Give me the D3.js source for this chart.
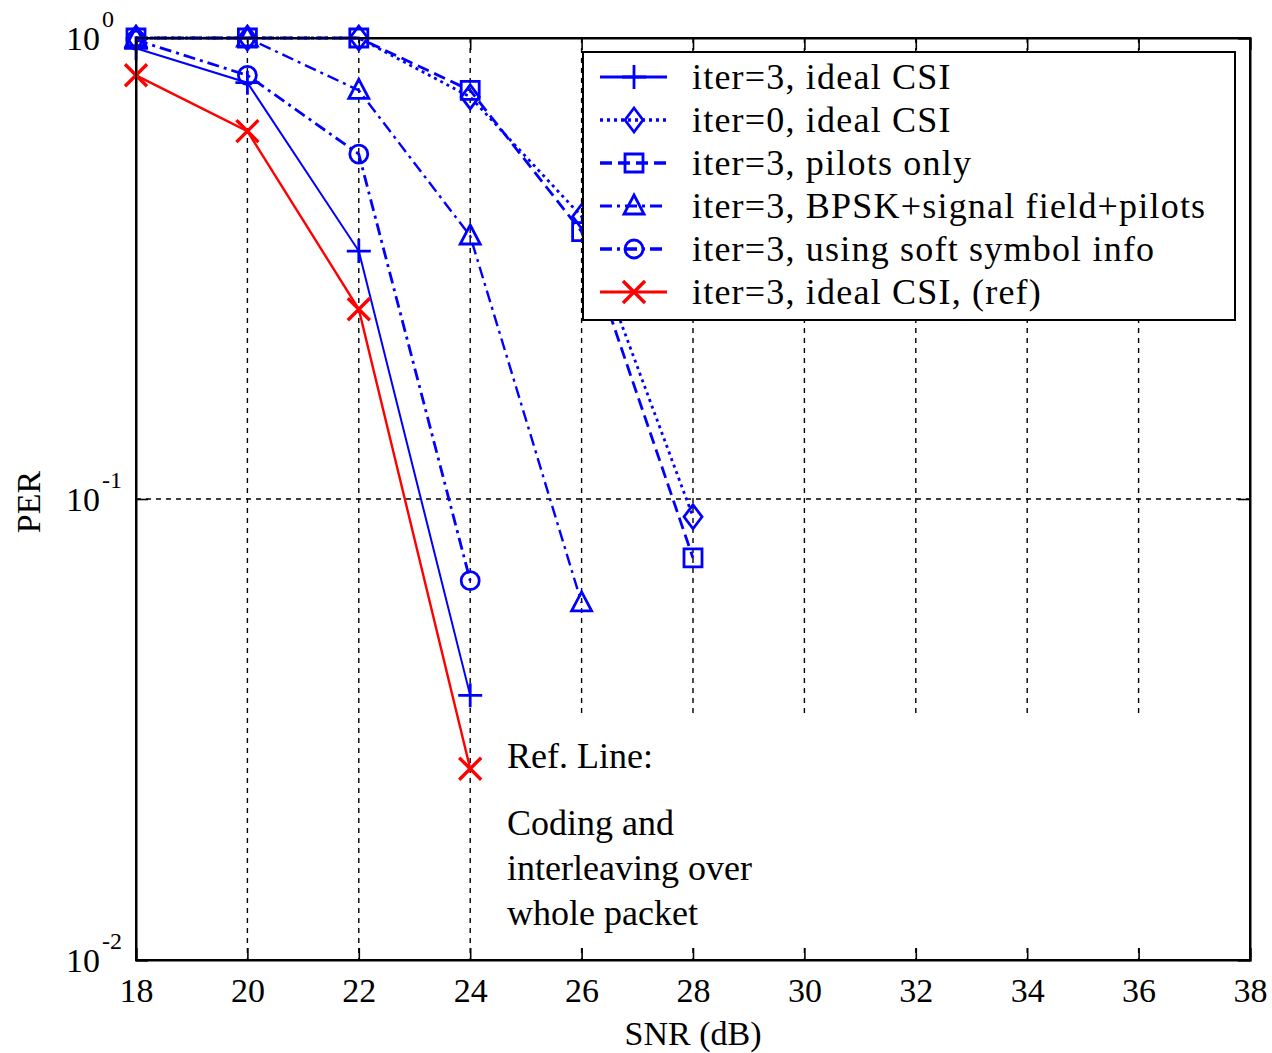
<!DOCTYPE html>
<html>
<head>
<meta charset="utf-8">
<script src="https://cdn.jsdelivr.net/npm/d3@7"></script>
<style>
  body { margin: 0; background: #fff; }
  text { font-family: "Liberation Serif", "Times New Roman", serif; fill: #000; }
</style>
</head>
<body>
<svg id="chart" width="1272" height="1053"></svg>
<script>
// data
const snr = [18, 20, 22, 24, 26, 28];
const iter3Ideal = [0.95, 0.80, 0.345, 0.0375];
const iter0Ideal = [1, 1, 1, 0.745, 0.41, 0.0915];
const pilotsOnly = [1, 1, 1, 0.77, 0.38, 0.0745];
const bpskSignal = [1, 1, 0.77, 0.372, 0.0595];
const softSymbol = [0.99, 0.83, 0.56, 0.0665];
const refLine = [0.83, 0.628, 0.258, 0.026];
const xTicks = [18, 20, 22, 24, 26, 28, 30, 32, 34, 36, 38];
const yTicks = [0.01, 0.1, 1];
const yExp = ["-2", "-1", "0"];
const legendLabels = [
  "iter=3, ideal CSI",
  "iter=0, ideal CSI",
  "iter=3, pilots only",
  "iter=3, BPSK+signal field+pilots",
  "iter=3, using soft symbol info",
  "iter=3, ideal CSI, (ref)"
];
const noteLines = ["Ref. Line:", "Coding and", "interleaving over", "whole packet"];

const series = [
  { vals: iter3Ideal, color: "#0000ff", dash: null, mark: "plus", w: 2 },
  { vals: iter0Ideal, color: "#0000ff", dash: "3,4", mark: "diamond", w: 2.8 },
  { vals: pilotsOnly, color: "#0000ff", dash: "12,6", mark: "square", w: 2.8 },
  { vals: bpskSignal, color: "#0000ff", dash: "12,5,3,5", mark: "triangle", w: 2.4 },
  { vals: softSymbol, color: "#0000ff", dash: "12,5,3,5", mark: "circle", w: 2.8 },
  { vals: refLine, color: "#ff0000", dash: null, mark: "cross", w: 2.4 }
];

const pLeft = 136, pTop = 38, pRight = 1250, pBottom = 960;
const svg = d3.select("#chart");
const x = d3.scaleLinear().domain([18, 38]).range([pLeft, pRight]);
const y = d3.scaleLog().domain([0.01, 1]).range([pBottom, pTop]);

// grid
const grid = svg.append("g").attr("stroke", "#000").attr("stroke-width", 1.4)
  .attr("stroke-dasharray", "5,5");
grid.selectAll("line.v").data(xTicks.slice(1, -1)).join("line")
  .attr("x1", d => x(d)).attr("x2", d => x(d))
  .attr("y1", pTop).attr("y2", pBottom);
grid.append("line").attr("x1", pLeft).attr("x2", pRight)
  .attr("y1", y(0.1)).attr("y2", y(0.1));

// white panel behind the note
svg.append("rect").attr("x", 488).attr("y", 718)
  .attr("width", pRight - 488 - 2).attr("height", pBottom - 12 - 718).attr("fill", "#fff");

// axes
const axB = svg.append("g").attr("transform", `translate(0,${pBottom})`)
  .call(d3.axisBottom(x).tickValues(xTicks).tickSize(-12).tickPadding(18));
const axT = svg.append("g").attr("transform", `translate(0,${pTop})`)
  .call(d3.axisTop(x).tickValues(xTicks).tickSize(-12).tickFormat(""));
const axL = svg.append("g").attr("transform", `translate(${pLeft},0)`)
  .call(d3.axisLeft(y).tickValues(yTicks).tickSize(-12).tickFormat(""));
const axR = svg.append("g").attr("transform", `translate(${pRight},0)`)
  .call(d3.axisRight(y).tickValues(yTicks).tickSize(-12).tickFormat(""));
[axB, axT, axL, axR].forEach(g => {
  g.select(".domain").attr("stroke-width", 2);
  g.selectAll(".tick line").attr("stroke-width", 1.6);
});
axB.selectAll(".tick text").style("font-size", "34px")
  .style("font-family", '"Liberation Serif", serif');

// y tick labels with exponents
svg.append("g").selectAll("text").data(yTicks).join("text")
  .attr("x", 100).attr("y", d => y(d) + 12)
  .attr("text-anchor", "end").style("font-size", "34px").text("10");
svg.append("g").selectAll("text").data(yTicks).join("text")
  .attr("x", 102).attr("y", d => y(d) - 11)
  .style("font-size", "24px").text((d, i) => yExp[i]);

// axis titles
svg.append("text").attr("x", x(28)).attr("y", 1045).attr("text-anchor", "middle")
  .style("font-size", "34px").text("SNR (dB)");
svg.append("text").attr("transform", "translate(40,502) rotate(-90)")
  .attr("text-anchor", "middle").style("font-size", "34px").text("PER");

// marker drawing
function marker(g, type, color) {
  const p = g.append("path").attr("fill", "none").attr("stroke", color).attr("stroke-width", 2.8);
  if (type === "plus") p.attr("d", "M-12,0H12M0,-12V12");
  else if (type === "diamond") p.attr("d", "M0,-12L9,0L0,12L-9,0Z");
  else if (type === "square") p.attr("d", "M-9,-9H9V9H-9Z");
  else if (type === "triangle") p.attr("d", "M0,-11L10,8H-10Z");
  else if (type === "circle") p.attr("d", "M9,0A9,9 0 1,1 -9,0A9,9 0 1,1 9,0");
  else if (type === "cross") p.attr("d", "M-11,-11L11,11M-11,11L11,-11").attr("stroke-width", 3.4);
}

const line = d3.line().x(d => x(d[0])).y(d => y(d[1]));
const plot = svg.append("g");
series.forEach(s => {
  const pts = s.vals.map((v, i) => [snr[i], v]);
  plot.append("path").datum(pts).attr("d", line).attr("fill", "none")
    .attr("stroke", s.color).attr("stroke-width", s.w)
    .attr("stroke-dasharray", s.dash);
  pts.forEach(p => {
    const g = plot.append("g").attr("transform", `translate(${x(p[0])},${y(p[1])})`);
    marker(g, s.mark, s.color);
  });
});

// legend
const lg = svg.append("g");
lg.append("rect").attr("x", 583).attr("y", 52).attr("width", 652).attr("height", 268)
  .attr("fill", "#fff").attr("stroke", "#000").attr("stroke-width", 2);
series.forEach((s, i) => {
  const cy = 77 + i * 43;
  lg.append("line").attr("x1", 600).attr("x2", 667).attr("y1", cy).attr("y2", cy)
    .attr("stroke", s.color).attr("stroke-width", s.w + 0.8).attr("stroke-dasharray", s.dash);
  marker(lg.append("g").attr("transform", `translate(634,${cy})`), s.mark, s.color);
  lg.append("text").attr("x", 692).attr("y", cy + 12).style("font-size", "36px")
    .style("letter-spacing", "1.2px").text(legendLabels[i]);
});

// note
const noteY = [768, 835, 880, 925];
svg.append("g").selectAll("text").data(noteLines).join("text")
  .attr("x", 507).attr("y", (d, i) => noteY[i]).style("font-size", "36px").text(d => d);

// frame on top
svg.append("rect").attr("x", pLeft).attr("y", pTop).attr("width", pRight - pLeft)
  .attr("height", pBottom - pTop).attr("fill", "none").attr("stroke", "#000").attr("stroke-width", 2);
</script>
</body>
</html>
